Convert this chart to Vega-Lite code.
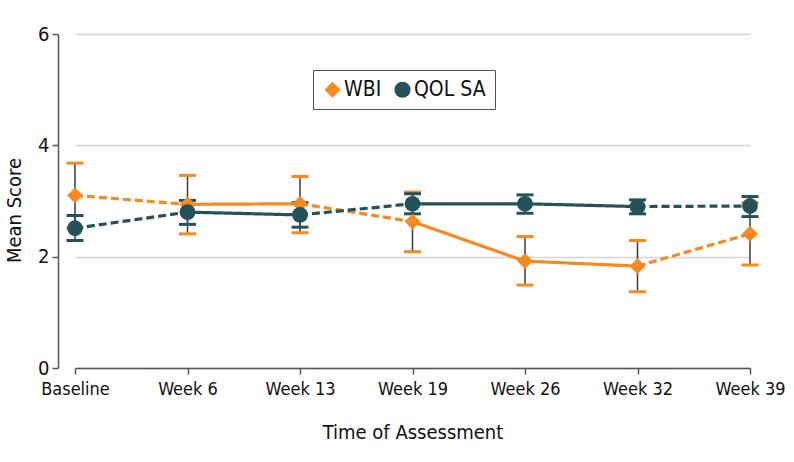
{
  "$schema": "https://vega.github.io/schema/vega-lite/v6.json",
  "width": 692,
  "height": 334,
  "autosize": "none",
  "padding": {"left": 58, "top": 34, "right": 44, "bottom": 94},
  "background": "white",
  "config": {
    "font": "'DejaVu Sans Condensed', 'Liberation Sans', sans-serif",
    "view": {"stroke": null},
    "axis": {"labelColor": "#111", "titleColor": "#111", "titleFontWeight": "normal", "domainColor": "#555", "tickColor": "#555", "domainWidth": 1.5, "tickWidth": 1.5, "tickSize": 6}
  },
  "data": {
    "values": [
      {"series": "WBI", "time": "Baseline", "week": 0, "mean": 3.10, "lower": 2.52, "upper": 3.68, "link": "estimated"},
      {"series": "WBI", "time": "Week 6", "week": 6, "mean": 2.94, "lower": 2.41, "upper": 3.46, "link": "observed"},
      {"series": "WBI", "time": "Week 13", "week": 13, "mean": 2.95, "lower": 2.43, "upper": 3.44, "link": "estimated"},
      {"series": "WBI", "time": "Week 19", "week": 19, "mean": 2.63, "lower": 2.09, "upper": 3.16, "link": "observed"},
      {"series": "WBI", "time": "Week 26", "week": 26, "mean": 1.92, "lower": 1.49, "upper": 2.36, "link": "observed"},
      {"series": "WBI", "time": "Week 32", "week": 32, "mean": 1.83, "lower": 1.37, "upper": 2.29, "link": "estimated"},
      {"series": "WBI", "time": "Week 39", "week": 39, "mean": 2.41, "lower": 1.85, "upper": 2.97, "link": "none"},
      {"series": "QOL SA", "time": "Baseline", "week": 0, "mean": 2.51, "lower": 2.29, "upper": 2.74, "link": "estimated"},
      {"series": "QOL SA", "time": "Week 6", "week": 6, "mean": 2.80, "lower": 2.58, "upper": 3.01, "link": "observed"},
      {"series": "QOL SA", "time": "Week 13", "week": 13, "mean": 2.75, "lower": 2.53, "upper": 2.97, "link": "estimated"},
      {"series": "QOL SA", "time": "Week 19", "week": 19, "mean": 2.95, "lower": 2.77, "upper": 3.13, "link": "observed"},
      {"series": "QOL SA", "time": "Week 26", "week": 26, "mean": 2.95, "lower": 2.78, "upper": 3.11, "link": "observed"},
      {"series": "QOL SA", "time": "Week 32", "week": 32, "mean": 2.90, "lower": 2.77, "upper": 3.02, "link": "estimated"},
      {"series": "QOL SA", "time": "Week 39", "week": 39, "mean": 2.91, "lower": 2.72, "upper": 3.08, "link": "none"}
    ]
  },
  "encoding": {
    "x": {
      "field": "time", "type": "ordinal",
      "sort": ["Baseline", "Week 6", "Week 13", "Week 19", "Week 26", "Week 32", "Week 39"],
      "scale": {"type": "point", "range": [17, 692], "padding": 0},
      "axis": {"title": "Time of Assessment", "labelAngle": 0, "labelFontSize": 18, "labelPadding": 6, "titleFontSize": 20, "titlePadding": 24, "grid": false}
    }
  },
  "layer": [
    {
      "mark": {"type": "rule", "color": "#3a3a3a", "strokeWidth": 1.5},
      "encoding": {
        "y": {"field": "lower", "type": "quantitative", "scale": {"domain": [0, 6], "nice": false},
          "axis": {"title": "Mean Score", "values": [0, 2, 4, 6], "format": "d", "labelFontSize": 20, "labelPadding": 3, "titleFontSize": 20, "grid": true, "gridColor": "#d6d6d6", "gridWidth": 1.5, "titleX": -44, "titleY": 176, "titleAlign": "center", "titleBaseline": "middle"}},
        "y2": {"field": "upper"}
      }
    },
    {
      "mark": {"type": "tick", "thickness": 3, "size": 17, "opacity": 1},
      "encoding": {
        "y": {"field": "lower", "type": "quantitative"},
        "color": {"field": "series", "type": "nominal", "scale": {"domain": ["WBI", "QOL SA"], "range": ["#F7891F", "#24525A"]}}
      }
    },
    {
      "mark": {"type": "tick", "thickness": 3, "size": 17, "opacity": 1},
      "encoding": {
        "y": {"field": "upper", "type": "quantitative"},
        "color": {"field": "series", "type": "nominal"}
      }
    },
    {
      "transform": [
        {"window": [
          {"op": "lead", "field": "mean", "as": "next_mean"},
          {"op": "lead", "field": "time", "as": "next_time"}
        ], "groupby": ["series"], "sort": [{"field": "week", "order": "ascending"}], "frame": [null, null]},
        {"filter": "datum.next_time != null"}
      ],
      "mark": {"type": "rule", "strokeWidth": 3.2, "strokeCap": "butt"},
      "encoding": {
        "x2": {"field": "next_time"},
        "y": {"field": "mean", "type": "quantitative"},
        "y2": {"field": "next_mean"},
        "color": {"field": "series", "type": "nominal"},
        "strokeDash": {"field": "link", "type": "nominal", "scale": {"domain": ["observed", "estimated"], "range": [[1, 0], [8, 4]]}, "legend": null}
      }
    },
    {
      "mark": {"type": "point", "filled": true, "opacity": 1, "size": 250},
      "encoding": {
        "y": {"field": "mean", "type": "quantitative"},
        "color": {"field": "series", "type": "nominal",
          "legend": {"title": null, "orient": "none", "legendX": 255, "legendY": 36, "direction": "horizontal", "strokeColor": "#555", "padding": 9, "labelFontSize": 21, "labelColor": "#111", "symbolSize": 260, "symbolStrokeWidth": 0, "columnPadding": 10, "labelOffset": 1, "symbolOpacity": 1}},
        "shape": {"field": "series", "type": "nominal", "scale": {"domain": ["WBI", "QOL SA"], "range": ["diamond", "circle"]},
          "legend": {"title": null, "orient": "none", "legendX": 255, "legendY": 36, "direction": "horizontal", "strokeColor": "#555", "padding": 9, "labelFontSize": 21, "labelColor": "#111", "symbolSize": 260, "symbolStrokeWidth": 0, "columnPadding": 10, "labelOffset": 1, "symbolOpacity": 1}}
      }
    }
  ]
}
